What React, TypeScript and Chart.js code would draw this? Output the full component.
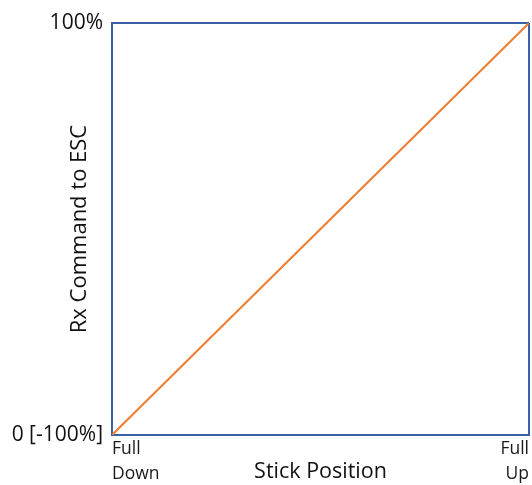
import React, { useEffect, useRef } from "react";
import { Chart, registerables } from "chart.js";

Chart.register(...registerables);

const xTickValues = [0, 100];
const xTickLabels = [["Full", "Down"], ["Full", "Up"]];
const yTickValues = [0, 100];
const yTickLabels = ["0 [-100%]", "100%"];
const seriesX = [0, 100];
const seriesY = [0, 100];
const xTitle = "Stick Position";
const yTitle = "Rx Command to ESC";

const FONT = "'Open Sans', 'Noto Sans', sans-serif";
const BORDER = "#3A62A8";
const LINE = "#ED7D31";

export default function App() {
  const ref = useRef<HTMLCanvasElement | null>(null);
  useEffect(() => {
    if (!ref.current) return;
    const chart = new Chart(ref.current, {
      type: "line",
      data: {
        datasets: [
          {
            data: seriesX.map((x, i) => ({ x, y: seriesY[i] })),
            borderColor: LINE,
            borderWidth: 2,
            pointRadius: 0,
            fill: false,
          },
        ],
      },
      options: {
        animation: false,
        responsive: false,
        maintainAspectRatio: false,
        layout: { padding: { left: 0, right: 3, top: 23, bottom: 0 } },
        plugins: { legend: { display: false }, tooltip: { enabled: false } },
        scales: {
          x: {
            type: "linear",
            min: 0,
            max: 100,
            afterBuildTicks: (s: any) => {
              s.ticks = xTickValues.map((v) => ({ value: v }));
            },
            afterFit: (s: any) => {
              s.height = 50;
            },
            grid: { display: true, color: BORDER, lineWidth: 2, drawTicks: false },
            border: { display: true, color: BORDER, width: 2 },
            ticks: {
              align: "inner",
              maxRotation: 0,
              padding: 2,
              color: "#1a1a1a",
              font: { family: FONT, size: 17.5, lineHeight: 1.42 },
              callback: (v: any) => xTickLabels[xTickValues.indexOf(Number(v))] ?? "",
            },
            title: {
              display: true,
              text: xTitle,
              color: "#111",
              font: { family: FONT, size: 21.5, lineHeight: 1.2 },
              padding: { top: 0, bottom: 0 },
            },
          },
          y: {
            type: "linear",
            min: 0,
            max: 100,
            afterBuildTicks: (s: any) => {
              s.ticks = yTickValues.map((v) => ({ value: v }));
            },
            afterFit: (s: any) => {
              s.width = 112;
            },
            grid: { display: true, color: BORDER, lineWidth: 2, drawTicks: false },
            border: { display: true, color: BORDER, width: 2 },
            ticks: {
              padding: 9,
              color: "#111",
              font: { family: FONT, size: 21 },
              callback: (v: any) => yTickLabels[yTickValues.indexOf(Number(v))] ?? "",
            },
            title: {
              display: true,
              text: yTitle,
              color: "#111",
              font: { family: FONT, size: 22, lineHeight: 1.2 },
              padding: { top: 67, bottom: 0 },
            },
          },
        },
      },
    });
    return () => chart.destroy();
  }, []);
  return (
    <div style={{ position: "fixed", left: 0, top: 0, width: 532, height: 485, background: "#fff" }}>
      <canvas ref={ref} width={532} height={485} style={{ display: "block", width: 532, height: 485 }} />
    </div>
  );
}
